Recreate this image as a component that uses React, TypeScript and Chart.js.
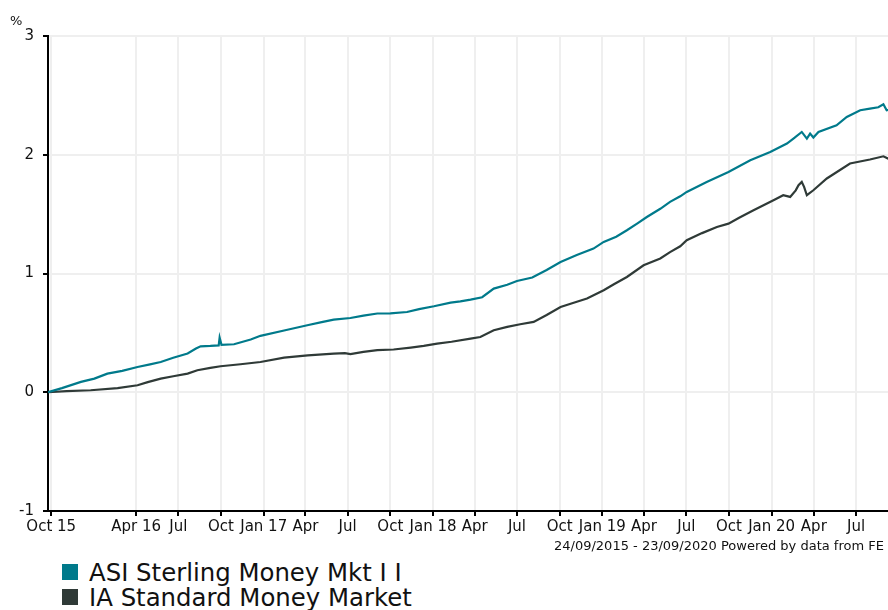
import React, { useEffect, useRef } from "react";
import Chart from "chart.js/auto";

// Days since 24/09/2015
const asiDays = [0, 30, 71, 100, 128, 160, 193, 220, 243, 270, 301, 319, 329, 350, 368, 370, 374, 401, 437, 458, 509, 559, 590, 616, 652, 680, 710, 738, 774, 800, 832, 868, 889, 911, 936, 961, 990, 1011, 1044, 1075, 1105, 1140, 1176, 1198, 1225, 1248, 1270, 1291, 1320, 1341, 1363, 1377, 1420, 1467, 1514, 1557, 1593, 1607, 1625, 1636, 1643, 1650, 1661, 1700, 1722, 1751, 1772, 1790, 1801, 1808, 1826];
const asiValues = [0, 0.035, 0.087, 0.115, 0.157, 0.18, 0.213, 0.235, 0.255, 0.29, 0.326, 0.368, 0.387, 0.39, 0.395, 0.46, 0.4, 0.404, 0.444, 0.475, 0.52, 0.564, 0.59, 0.612, 0.625, 0.645, 0.663, 0.665, 0.676, 0.7, 0.724, 0.755, 0.765, 0.78, 0.8, 0.873, 0.905, 0.937, 0.966, 1.03, 1.097, 1.155, 1.21, 1.266, 1.31, 1.364, 1.42, 1.476, 1.545, 1.603, 1.65, 1.687, 1.77, 1.855, 1.954, 2.024, 2.094, 2.136, 2.192, 2.136, 2.178, 2.145, 2.192, 2.248, 2.318, 2.375, 2.389, 2.4, 2.425, 2.375, 2.39];

const iaDays = [0, 40, 92, 150, 193, 215, 243, 270, 301, 322, 350, 372, 415, 458, 509, 560, 616, 640, 652, 680, 710, 745, 782, 810, 839, 870, 911, 932, 961, 990, 1018, 1047, 1075, 1105, 1130, 1162, 1198, 1220, 1248, 1284, 1320, 1341, 1363, 1377, 1410, 1442, 1467, 1490, 1521, 1564, 1585, 1600, 1612, 1618, 1625, 1630, 1636, 1650, 1679, 1729, 1772, 1801, 1811, 1826];
const iaValues = [0, 0.01, 0.017, 0.035, 0.059, 0.085, 0.115, 0.135, 0.157, 0.185, 0.205, 0.219, 0.236, 0.255, 0.292, 0.31, 0.326, 0.33, 0.322, 0.34, 0.354, 0.36, 0.376, 0.39, 0.41, 0.425, 0.452, 0.465, 0.522, 0.55, 0.573, 0.592, 0.65, 0.718, 0.75, 0.789, 0.859, 0.91, 0.971, 1.069, 1.126, 1.18, 1.229, 1.28, 1.34, 1.392, 1.42, 1.47, 1.533, 1.617, 1.659, 1.645, 1.7, 1.743, 1.771, 1.73, 1.659, 1.701, 1.8, 1.926, 1.96, 1.987, 1.968, 1.975];

const tickDays = [7, 190, 281, 373, 465, 555, 646, 738, 830, 920, 1011, 1103, 1195, 1285, 1376, 1468, 1560, 1651, 1742];
const tickLabels = ["Oct 15", "Apr 16", "Jul", "Oct", "Jan 17", "Apr", "Jul", "Oct", "Jan 18", "Apr", "Jul", "Oct", "Jan 19", "Apr", "Jul", "Oct", "Jan 20", "Apr", "Jul"];

const seriesNames = ["ASI Sterling Money Mkt I I", "IA Standard Money Market"];
const seriesColors = ["#007a8b", "#2f3a37"];
const footerText = "24/09/2015 - 23/09/2020 Powered by data from FE";

const FONT = "'DejaVu Sans', Verdana, sans-serif";

export default function App() {
  const ref = useRef<HTMLCanvasElement>(null);
  useEffect(() => {
    document.documentElement.style.overflow = "hidden";
    const ctx = ref.current!;
    const chart = new Chart(ctx, {
      type: "line",
      data: {
        datasets: [
          {
            label: seriesNames[0],
            data: asiDays.map((d, i) => ({ x: d, y: asiValues[i] })),
            borderColor: seriesColors[0],
            backgroundColor: seriesColors[0],
            borderWidth: 2.2,
            pointRadius: 0,
            tension: 0,
          },
          {
            label: seriesNames[1],
            data: iaDays.map((d, i) => ({ x: d, y: iaValues[i] })),
            borderColor: seriesColors[1],
            backgroundColor: seriesColors[1],
            borderWidth: 2.2,
            pointRadius: 0,
            tension: 0,
          },
        ],
      },
      options: {
        animation: false,
        responsive: false,
        maintainAspectRatio: false,
        layout: { padding: { left: 0, top: 36, right: 5, bottom: 14 } },
        plugins: { legend: { display: false }, tooltip: { enabled: false } },
        scales: {
          x: {
            type: "linear",
            min: 0,
            max: 1826,
            afterBuildTicks: (scale: any) => {
              scale.ticks = tickDays.map((v) => ({ value: v }));
            },
            afterFit: (scale: any) => {
              scale.height = 30;
            },
            ticks: {
              autoSkip: false,
              maxRotation: 0,
              minRotation: 0,
              padding: 2,
              color: "#111",
              font: { family: FONT, size: 15 },
              callback: (_v: any, i: number) => tickLabels[i],
            },
            grid: {
              color: "#efefef",
              lineWidth: 2,
              tickColor: "#000",
              tickLength: 5,
              tickWidth: 2,
            },
            border: { display: true, color: "#000", width: 2 },
          },
          y: {
            min: -1,
            max: 3,
            afterFit: (scale: any) => {
              scale.width = 48;
            },
            ticks: {
              stepSize: 1,
              padding: 9,
              color: "#111",
              font: { family: FONT, size: 15 },
            },
            grid: {
              color: "#efefef",
              lineWidth: 2,
              tickColor: "#000",
              tickLength: 5,
              tickWidth: 2,
            },
            border: { display: true, color: "#000", width: 2 },
          },
        },
      },
    });
    return () => chart.destroy();
  }, []);

  return (
    <div
      style={{
        position: "fixed",
        left: 0,
        top: 0,
        width: 888,
        height: 610,
        overflow: "hidden",
        background: "#fff",
        fontFamily: FONT,
      }}
    >
      <canvas
        ref={ref}
        width={900}
        height={555}
        style={{ position: "absolute", left: 0, top: 0, width: 900, height: 555 }}
      />
      <div style={{ position: "absolute", left: 10, top: 13, fontSize: 13, lineHeight: "15px", color: "#111" }}>%</div>
      <div
        style={{
          position: "absolute",
          left: 554,
          top: 538,
          fontSize: 13,
          lineHeight: "15px",
          whiteSpace: "nowrap",
          color: "#111",
        }}
      >
        {footerText}
      </div>
      {seriesNames.map((name, i) => (
        <div key={name}>
          <div
            style={{
              position: "absolute",
              left: 62,
              top: 564 + i * 25,
              width: 16,
              height: 16,
              background: seriesColors[i],
            }}
          />
          <div
            style={{
              position: "absolute",
              left: 89,
              top: 560 + i * 25,
              fontSize: 24.4,
              lineHeight: "26px",
              whiteSpace: "nowrap",
              color: "#111",
            }}
          >
            {name}
          </div>
        </div>
      ))}
    </div>
  );
}
